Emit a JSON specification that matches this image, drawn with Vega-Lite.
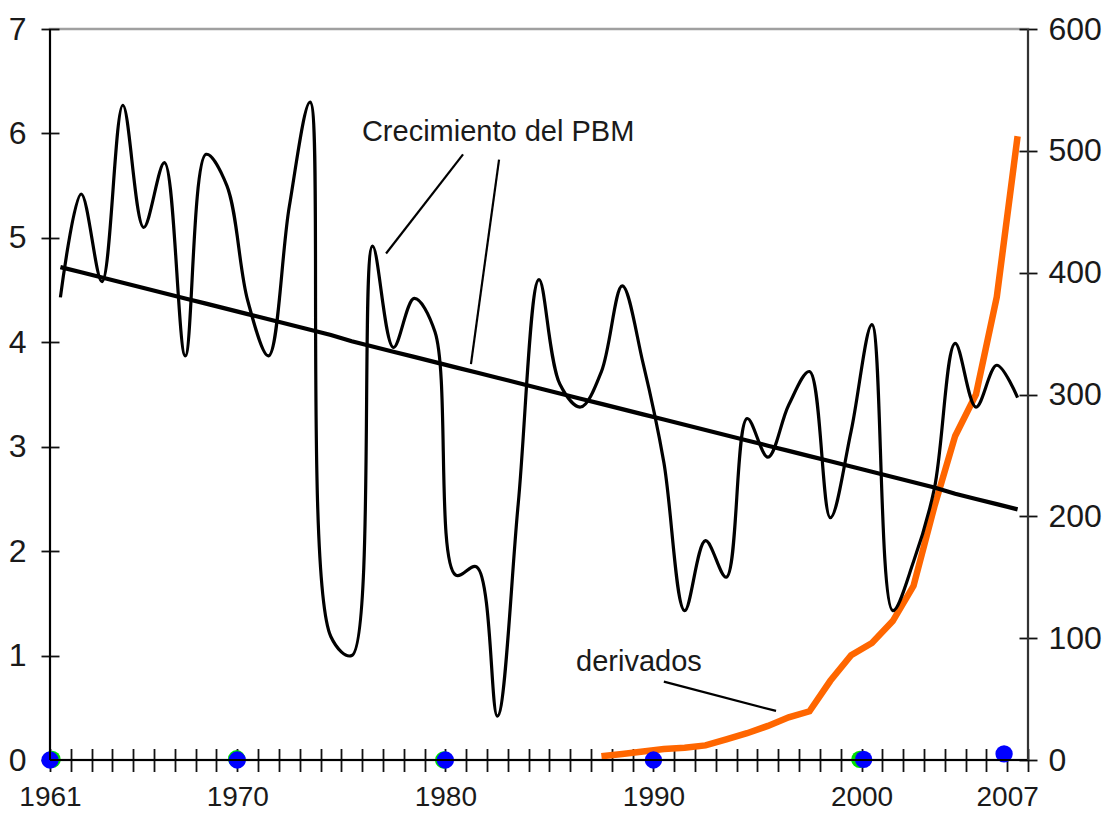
{
  "$schema": "https://vega.github.io/schema/vega-lite/v6.json",
  "width": 978,
  "height": 731,
  "autosize": {"type": "none"},
  "padding": {"left": 50, "top": 29, "right": 75, "bottom": 55},
  "background": "white",
  "config": {
    "font": "Liberation Sans",
    "view": {"stroke": "#a0a0a0", "strokeWidth": 2.5},
    "axis": {"grid": false, "domain": false, "tickColor": "#111111", "tickWidth": 1.8, "labelColor": "#1a1a1a", "labelFont": "Liberation Sans"},
    "axisX": {"labelFontSize": 28, "labelPadding": 12, "labelOverlap": false, "labelFlush": false},
    "axisY": {"labelFontSize": 32}
  },
  "datasets": {
    "gdp": [
      {"year": 1961, "g": 4.43, "t": 4.72},
      {"year": 1962, "g": 5.42, "t": 4.67},
      {"year": 1963, "g": 4.58, "t": 4.62},
      {"year": 1964, "g": 6.27, "t": 4.57},
      {"year": 1965, "g": 5.10, "t": 4.52},
      {"year": 1966, "g": 5.72, "t": 4.47},
      {"year": 1967, "g": 3.87, "t": 4.42},
      {"year": 1968, "g": 5.80, "t": 4.37},
      {"year": 1969, "g": 5.50, "t": 4.32},
      {"year": 1970, "g": 4.40, "t": 4.27},
      {"year": 1971, "g": 3.87, "t": 4.22},
      {"year": 1972, "g": 5.30, "t": 4.17},
      {"year": 1973, "g": 6.30, "t": 4.12},
      {"year": 1974, "g": 1.18, "t": 4.07},
      {"year": 1975, "g": 1.00, "t": 4.01},
      {"year": 1976, "g": 4.92, "t": 3.96},
      {"year": 1977, "g": 3.95, "t": 3.91},
      {"year": 1978, "g": 4.42, "t": 3.86},
      {"year": 1979, "g": 4.10, "t": 3.81},
      {"year": 1980, "g": 1.77, "t": 3.76},
      {"year": 1981, "g": 1.85, "t": 3.71},
      {"year": 1982, "g": 0.42, "t": 3.66},
      {"year": 1983, "g": 2.45, "t": 3.61},
      {"year": 1984, "g": 4.60, "t": 3.56},
      {"year": 1985, "g": 3.60, "t": 3.51},
      {"year": 1986, "g": 3.38, "t": 3.46},
      {"year": 1987, "g": 3.72, "t": 3.41},
      {"year": 1988, "g": 4.54, "t": 3.36},
      {"year": 1989, "g": 3.80, "t": 3.31},
      {"year": 1990, "g": 2.85, "t": 3.26},
      {"year": 1991, "g": 1.43, "t": 3.21},
      {"year": 1992, "g": 2.10, "t": 3.16},
      {"year": 1993, "g": 1.75, "t": 3.11},
      {"year": 1994, "g": 3.27, "t": 3.06},
      {"year": 1995, "g": 2.90, "t": 3.01},
      {"year": 1996, "g": 3.40, "t": 2.96},
      {"year": 1997, "g": 3.72, "t": 2.91},
      {"year": 1998, "g": 2.32, "t": 2.86},
      {"year": 1999, "g": 3.15, "t": 2.81},
      {"year": 2000, "g": 4.17, "t": 2.76},
      {"year": 2001, "g": 1.43, "t": 2.71},
      {"year": 2002, "g": 1.90, "t": 2.66},
      {"year": 2003, "g": 2.60, "t": 2.61},
      {"year": 2004, "g": 3.99, "t": 2.55},
      {"year": 2005, "g": 3.38, "t": 2.50},
      {"year": 2006, "g": 3.78, "t": 2.45},
      {"year": 2007, "g": 3.47, "t": 2.40}
    ],
    "deriv": [
      {"year": 1987, "d": 3},
      {"year": 1988, "d": 5},
      {"year": 1989, "d": 7},
      {"year": 1990, "d": 9},
      {"year": 1991, "d": 10},
      {"year": 1992, "d": 12},
      {"year": 1993, "d": 17},
      {"year": 1994, "d": 22},
      {"year": 1995, "d": 28},
      {"year": 1996, "d": 35},
      {"year": 1997, "d": 40},
      {"year": 1998, "d": 65},
      {"year": 1999, "d": 86},
      {"year": 2000, "d": 96},
      {"year": 2001, "d": 114},
      {"year": 2002, "d": 143},
      {"year": 2003, "d": 208},
      {"year": 2004, "d": 266},
      {"year": 2005, "d": 300},
      {"year": 2006, "d": 380},
      {"year": 2007, "d": 512}
    ],
    "halo": [
      {"px": 1960.6, "pv": 0.5},
      {"px": 1969.47, "pv": 1},
      {"px": 1979.42, "pv": 0},
      {"px": 1999.42, "pv": 0.5}
    ],
    "dots": [
      {"px": 1960.5, "pv": 0},
      {"px": 1969.5, "pv": 0},
      {"px": 1979.5, "pv": 0},
      {"px": 1989.5, "pv": 0},
      {"px": 1999.6, "pv": 0.5},
      {"px": 2006.35, "pv": 5}
    ],
    "notes": [
      {"label": "Crecimiento del PBM", "nx": 1975.49, "nv": 5.93},
      {"label": "derivados", "nx": 1985.78, "nv": 0.85}
    ],
    "pointers": [
      {"ax": 1980.35, "av": 5.80, "bx": 1976.65, "bv": 4.85},
      {"ax": 1982.08, "av": 5.75, "bx": 1980.73, "bv": 3.79},
      {"ax": 1990.0, "av": 0.75, "bx": 1995.39, "bv": 0.47}
    ]
  },
  "layer": [
    {
      "layer": [
        {
          "data": {"name": "deriv"},
          "mark": {"type": "line", "color": "#ff6600", "strokeWidth": 6.5, "strokeCap": "butt"},
          "encoding": {
            "x": {"field": "year", "type": "quantitative", "scale": {"domain": [1960.5, 2007.5], "nice": false, "zero": false},
              "axis": {"title": null, "tickSize": 23, "offset": -11.5,
                "values": [1960.5, 1961.5, 1962.5, 1963.5, 1964.5, 1965.5, 1966.5, 1967.5, 1968.5, 1969.5, 1970.5, 1971.5, 1972.5, 1973.5, 1974.5, 1975.5, 1976.5, 1977.5, 1978.5, 1979.5, 1980.5, 1981.5, 1982.5, 1983.5, 1984.5, 1985.5, 1986.5, 1987.5, 1988.5, 1989.5, 1990.5, 1991.5, 1992.5, 1993.5, 1994.5, 1995.5, 1996.5, 1997.5, 1998.5, 1999.5, 2000.5, 2001.5, 2002.5, 2003.5, 2004.5, 2005.5, 2006.5, 2007.5],
                "labelExpr": "datum.value == 1960.5 ? '1961' : datum.value == 1969.5 ? '1970' : datum.value == 1979.5 ? '1980' : datum.value == 1989.5 ? '1990' : datum.value == 1999.5 ? '2000' : datum.value == 2006.5 ? '2007' : ''"}},
            "y": {"field": "d", "type": "quantitative", "scale": {"domain": [0, 600], "nice": false, "zero": true},
              "axis": {"orient": "right", "title": null, "values": [0, 100, 200, 300, 400, 500, 600], "tickSize": 18, "offset": -9, "labelPadding": 11}}
          }
        },
        {
          "data": {"name": "halo"},
          "mark": {"type": "circle", "color": "#00e000", "opacity": 1, "size": 300},
          "encoding": {
            "x": {"field": "px", "type": "quantitative", "scale": {"domain": [1960.5, 2007.5], "nice": false, "zero": false},
              "axis": {"title": null, "tickSize": 23, "offset": -11.5,
                "values": [1960.5, 1961.5, 1962.5, 1963.5, 1964.5, 1965.5, 1966.5, 1967.5, 1968.5, 1969.5, 1970.5, 1971.5, 1972.5, 1973.5, 1974.5, 1975.5, 1976.5, 1977.5, 1978.5, 1979.5, 1980.5, 1981.5, 1982.5, 1983.5, 1984.5, 1985.5, 1986.5, 1987.5, 1988.5, 1989.5, 1990.5, 1991.5, 1992.5, 1993.5, 1994.5, 1995.5, 1996.5, 1997.5, 1998.5, 1999.5, 2000.5, 2001.5, 2002.5, 2003.5, 2004.5, 2005.5, 2006.5, 2007.5],
                "labelExpr": "datum.value == 1960.5 ? '1961' : datum.value == 1969.5 ? '1970' : datum.value == 1979.5 ? '1980' : datum.value == 1989.5 ? '1990' : datum.value == 1999.5 ? '2000' : datum.value == 2006.5 ? '2007' : ''"}},
            "y": {"field": "pv", "type": "quantitative", "scale": {"domain": [0, 600], "nice": false, "zero": true},
              "axis": {"orient": "right", "title": null, "values": [0, 100, 200, 300, 400, 500, 600], "tickSize": 18, "offset": -9, "labelPadding": 11}}
          }
        },
        {
          "data": {"name": "dots"},
          "mark": {"type": "circle", "color": "#0000ff", "opacity": 1, "size": 300},
          "encoding": {
            "x": {"field": "px", "type": "quantitative", "scale": {"domain": [1960.5, 2007.5], "nice": false, "zero": false},
              "axis": {"title": null, "tickSize": 23, "offset": -11.5,
                "values": [1960.5, 1961.5, 1962.5, 1963.5, 1964.5, 1965.5, 1966.5, 1967.5, 1968.5, 1969.5, 1970.5, 1971.5, 1972.5, 1973.5, 1974.5, 1975.5, 1976.5, 1977.5, 1978.5, 1979.5, 1980.5, 1981.5, 1982.5, 1983.5, 1984.5, 1985.5, 1986.5, 1987.5, 1988.5, 1989.5, 1990.5, 1991.5, 1992.5, 1993.5, 1994.5, 1995.5, 1996.5, 1997.5, 1998.5, 1999.5, 2000.5, 2001.5, 2002.5, 2003.5, 2004.5, 2005.5, 2006.5, 2007.5],
                "labelExpr": "datum.value == 1960.5 ? '1961' : datum.value == 1969.5 ? '1970' : datum.value == 1979.5 ? '1980' : datum.value == 1989.5 ? '1990' : datum.value == 1999.5 ? '2000' : datum.value == 2006.5 ? '2007' : ''"}},
            "y": {"field": "pv", "type": "quantitative", "scale": {"domain": [0, 600], "nice": false, "zero": true},
              "axis": {"orient": "right", "title": null, "values": [0, 100, 200, 300, 400, 500, 600], "tickSize": 18, "offset": -9, "labelPadding": 11}}
          }
        }
      ]
    },
    {
      "layer": [
        {
          "data": {"name": "gdp"},
          "mark": {"type": "rule", "color": "black", "strokeWidth": 2},
          "encoding": {
            "y": {"datum": 0, "type": "quantitative", "scale": {"domain": [0, 7], "nice": false, "zero": true},
              "axis": {"orient": "left", "title": null, "values": [0, 1, 2, 3, 4, 5, 6, 7], "tickSize": 18, "offset": -9, "labelPadding": 15}}
          }
        },
        {
          "data": {"name": "gdp"},
          "mark": {"type": "rule", "color": "black", "strokeWidth": 2},
          "encoding": {
            "x": {"datum": 1960.5, "type": "quantitative", "scale": {"domain": [1960.5, 2007.5], "nice": false, "zero": false},
              "axis": {"title": null, "tickSize": 23, "offset": -11.5,
                "values": [1960.5, 1961.5, 1962.5, 1963.5, 1964.5, 1965.5, 1966.5, 1967.5, 1968.5, 1969.5, 1970.5, 1971.5, 1972.5, 1973.5, 1974.5, 1975.5, 1976.5, 1977.5, 1978.5, 1979.5, 1980.5, 1981.5, 1982.5, 1983.5, 1984.5, 1985.5, 1986.5, 1987.5, 1988.5, 1989.5, 1990.5, 1991.5, 1992.5, 1993.5, 1994.5, 1995.5, 1996.5, 1997.5, 1998.5, 1999.5, 2000.5, 2001.5, 2002.5, 2003.5, 2004.5, 2005.5, 2006.5, 2007.5],
                "labelExpr": "datum.value == 1960.5 ? '1961' : datum.value == 1969.5 ? '1970' : datum.value == 1979.5 ? '1980' : datum.value == 1989.5 ? '1990' : datum.value == 1999.5 ? '2000' : datum.value == 2006.5 ? '2007' : ''"}}
          }
        },
        {
          "data": {"name": "gdp"},
          "mark": {"type": "rule", "color": "#333333", "strokeWidth": 2},
          "encoding": {
            "x": {"datum": 2007.5, "type": "quantitative", "scale": {"domain": [1960.5, 2007.5], "nice": false, "zero": false},
              "axis": {"title": null, "tickSize": 23, "offset": -11.5,
                "values": [1960.5, 1961.5, 1962.5, 1963.5, 1964.5, 1965.5, 1966.5, 1967.5, 1968.5, 1969.5, 1970.5, 1971.5, 1972.5, 1973.5, 1974.5, 1975.5, 1976.5, 1977.5, 1978.5, 1979.5, 1980.5, 1981.5, 1982.5, 1983.5, 1984.5, 1985.5, 1986.5, 1987.5, 1988.5, 1989.5, 1990.5, 1991.5, 1992.5, 1993.5, 1994.5, 1995.5, 1996.5, 1997.5, 1998.5, 1999.5, 2000.5, 2001.5, 2002.5, 2003.5, 2004.5, 2005.5, 2006.5, 2007.5],
                "labelExpr": "datum.value == 1960.5 ? '1961' : datum.value == 1969.5 ? '1970' : datum.value == 1979.5 ? '1980' : datum.value == 1989.5 ? '1990' : datum.value == 1999.5 ? '2000' : datum.value == 2006.5 ? '2007' : ''"}}
          }
        },
        {
          "data": {"name": "gdp"},
          "mark": {"type": "line", "color": "black", "strokeWidth": 4.2, "strokeCap": "butt"},
          "encoding": {
            "x": {"field": "year", "type": "quantitative", "scale": {"domain": [1960.5, 2007.5], "nice": false, "zero": false},
              "axis": {"title": null, "tickSize": 23, "offset": -11.5,
                "values": [1960.5, 1961.5, 1962.5, 1963.5, 1964.5, 1965.5, 1966.5, 1967.5, 1968.5, 1969.5, 1970.5, 1971.5, 1972.5, 1973.5, 1974.5, 1975.5, 1976.5, 1977.5, 1978.5, 1979.5, 1980.5, 1981.5, 1982.5, 1983.5, 1984.5, 1985.5, 1986.5, 1987.5, 1988.5, 1989.5, 1990.5, 1991.5, 1992.5, 1993.5, 1994.5, 1995.5, 1996.5, 1997.5, 1998.5, 1999.5, 2000.5, 2001.5, 2002.5, 2003.5, 2004.5, 2005.5, 2006.5, 2007.5],
                "labelExpr": "datum.value == 1960.5 ? '1961' : datum.value == 1969.5 ? '1970' : datum.value == 1979.5 ? '1980' : datum.value == 1989.5 ? '1990' : datum.value == 1999.5 ? '2000' : datum.value == 2006.5 ? '2007' : ''"}},
            "y": {"field": "t", "type": "quantitative", "scale": {"domain": [0, 7], "nice": false, "zero": true},
              "axis": {"orient": "left", "title": null, "values": [0, 1, 2, 3, 4, 5, 6, 7], "tickSize": 18, "offset": -9, "labelPadding": 15}}
          }
        },
        {
          "data": {"name": "gdp"},
          "mark": {"type": "line", "color": "black", "strokeWidth": 3.2, "interpolate": "catmull-rom", "strokeCap": "butt"},
          "encoding": {
            "x": {"field": "year", "type": "quantitative", "scale": {"domain": [1960.5, 2007.5], "nice": false, "zero": false},
              "axis": {"title": null, "tickSize": 23, "offset": -11.5,
                "values": [1960.5, 1961.5, 1962.5, 1963.5, 1964.5, 1965.5, 1966.5, 1967.5, 1968.5, 1969.5, 1970.5, 1971.5, 1972.5, 1973.5, 1974.5, 1975.5, 1976.5, 1977.5, 1978.5, 1979.5, 1980.5, 1981.5, 1982.5, 1983.5, 1984.5, 1985.5, 1986.5, 1987.5, 1988.5, 1989.5, 1990.5, 1991.5, 1992.5, 1993.5, 1994.5, 1995.5, 1996.5, 1997.5, 1998.5, 1999.5, 2000.5, 2001.5, 2002.5, 2003.5, 2004.5, 2005.5, 2006.5, 2007.5],
                "labelExpr": "datum.value == 1960.5 ? '1961' : datum.value == 1969.5 ? '1970' : datum.value == 1979.5 ? '1980' : datum.value == 1989.5 ? '1990' : datum.value == 1999.5 ? '2000' : datum.value == 2006.5 ? '2007' : ''"}},
            "y": {"field": "g", "type": "quantitative", "scale": {"domain": [0, 7], "nice": false, "zero": true},
              "axis": {"orient": "left", "title": null, "values": [0, 1, 2, 3, 4, 5, 6, 7], "tickSize": 18, "offset": -9, "labelPadding": 15}}
          }
        },
        {
          "data": {"name": "pointers"},
          "mark": {"type": "rule", "color": "black", "strokeWidth": 2.2},
          "encoding": {
            "x": {"field": "ax", "type": "quantitative", "scale": {"domain": [1960.5, 2007.5], "nice": false, "zero": false},
              "axis": {"title": null, "tickSize": 23, "offset": -11.5,
                "values": [1960.5, 1961.5, 1962.5, 1963.5, 1964.5, 1965.5, 1966.5, 1967.5, 1968.5, 1969.5, 1970.5, 1971.5, 1972.5, 1973.5, 1974.5, 1975.5, 1976.5, 1977.5, 1978.5, 1979.5, 1980.5, 1981.5, 1982.5, 1983.5, 1984.5, 1985.5, 1986.5, 1987.5, 1988.5, 1989.5, 1990.5, 1991.5, 1992.5, 1993.5, 1994.5, 1995.5, 1996.5, 1997.5, 1998.5, 1999.5, 2000.5, 2001.5, 2002.5, 2003.5, 2004.5, 2005.5, 2006.5, 2007.5],
                "labelExpr": "datum.value == 1960.5 ? '1961' : datum.value == 1969.5 ? '1970' : datum.value == 1979.5 ? '1980' : datum.value == 1989.5 ? '1990' : datum.value == 1999.5 ? '2000' : datum.value == 2006.5 ? '2007' : ''"}},
            "x2": {"field": "bx"},
            "y": {"field": "av", "type": "quantitative", "scale": {"domain": [0, 7], "nice": false, "zero": true},
              "axis": {"orient": "left", "title": null, "values": [0, 1, 2, 3, 4, 5, 6, 7], "tickSize": 18, "offset": -9, "labelPadding": 15}},
            "y2": {"field": "bv"}
          }
        },
        {
          "data": {"name": "notes"},
          "mark": {"type": "text", "align": "left", "baseline": "alphabetic", "fontSize": 29, "color": "#1a1a1a", "font": "Liberation Sans"},
          "encoding": {
            "x": {"field": "nx", "type": "quantitative", "scale": {"domain": [1960.5, 2007.5], "nice": false, "zero": false},
              "axis": {"title": null, "tickSize": 23, "offset": -11.5,
                "values": [1960.5, 1961.5, 1962.5, 1963.5, 1964.5, 1965.5, 1966.5, 1967.5, 1968.5, 1969.5, 1970.5, 1971.5, 1972.5, 1973.5, 1974.5, 1975.5, 1976.5, 1977.5, 1978.5, 1979.5, 1980.5, 1981.5, 1982.5, 1983.5, 1984.5, 1985.5, 1986.5, 1987.5, 1988.5, 1989.5, 1990.5, 1991.5, 1992.5, 1993.5, 1994.5, 1995.5, 1996.5, 1997.5, 1998.5, 1999.5, 2000.5, 2001.5, 2002.5, 2003.5, 2004.5, 2005.5, 2006.5, 2007.5],
                "labelExpr": "datum.value == 1960.5 ? '1961' : datum.value == 1969.5 ? '1970' : datum.value == 1979.5 ? '1980' : datum.value == 1989.5 ? '1990' : datum.value == 1999.5 ? '2000' : datum.value == 2006.5 ? '2007' : ''"}},
            "y": {"field": "nv", "type": "quantitative", "scale": {"domain": [0, 7], "nice": false, "zero": true},
              "axis": {"orient": "left", "title": null, "values": [0, 1, 2, 3, 4, 5, 6, 7], "tickSize": 18, "offset": -9, "labelPadding": 15}},
            "text": {"field": "label"}
          }
        }
      ]
    }
  ],
  "resolve": {"scale": {"y": "independent"}}
}
